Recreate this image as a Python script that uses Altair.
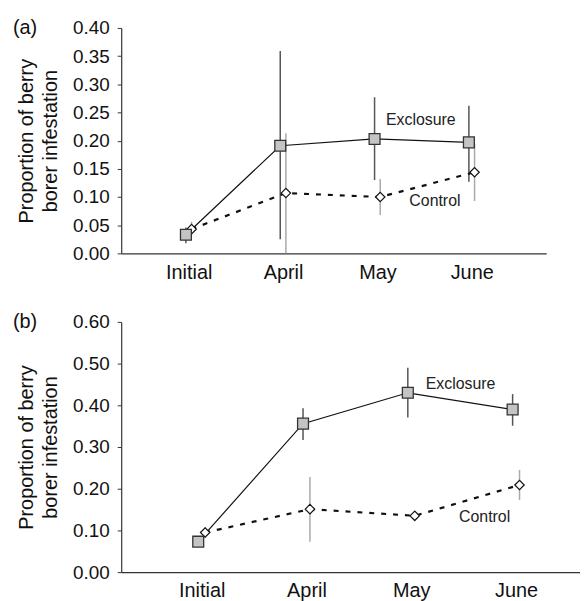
import altair as alt
import pandas as pd

months = ["Initial", "April", "May", "June"]

# Panel (a)
a_excl = [0.033, 0.191, 0.203, 0.197]
a_excl_lo = [0.018, 0.025, 0.130, 0.127]
a_excl_hi = [0.046, 0.359, 0.277, 0.262]
a_ctrl = [0.043, 0.107, 0.100, 0.144]
a_ctrl_lo = [0.034, 0.000, 0.068, 0.093]
a_ctrl_hi = [0.056, 0.213, 0.132, 0.194]

# Panel (b)
b_excl = [0.073, 0.356, 0.430, 0.390]
b_excl_lo = [0.064, 0.317, 0.371, 0.351]
b_excl_hi = [0.082, 0.393, 0.490, 0.427]
b_ctrl = [0.095, 0.151, 0.135, 0.209]
b_ctrl_lo = [0.082, 0.073, 0.129, 0.173]
b_ctrl_hi = [0.108, 0.228, 0.141, 0.245]

a_ticks = [0.00, 0.05, 0.10, 0.15, 0.20, 0.25, 0.30, 0.35, 0.40]
b_ticks = [0.00, 0.10, 0.20, 0.30, 0.40, 0.50, 0.60]

a_label_x = [2.46, 2.61]
a_label_y = [0.237, 0.092]
b_label_x = [2.47, 2.70]
b_label_y = [0.450, 0.133]
label_text = ["Exclosure", "Control"]

FONT = "Liberation Sans"


def panel(excl, elo, ehi, ctrl, clo, chi, lx, ly, tag, yticks, xdom, w, h, off):
    rows = []
    for i, m in enumerate(months):
        rows.append(dict(month=m, pos=i - off, series="Exclosure", v=excl[i], lo=elo[i], hi=ehi[i]))
        rows.append(dict(month=m, pos=i + off, series="Control", v=ctrl[i], lo=clo[i], hi=chi[i]))
    df = pd.DataFrame(rows)
    lab = pd.DataFrame(dict(x=lx, y=ly, t=label_text))
    ymax = yticks[-1]

    xscale = alt.Scale(domain=xdom, nice=False, zero=False)
    xaxis = alt.Axis(
        values=[0, 1, 2, 3], tickCount=4,
        labelExpr="['Initial','April','May','June'][datum.value]",
        title=None, grid=False, ticks=False, tickSize=0,
        labelFontSize=20, labelPadding=9, labelFont=FONT,
        labelColor="#111", domainColor="#333", domainWidth=1.2,
        labelOverlap=False,
    )
    yscale = alt.Scale(domain=[0, ymax], nice=False)
    yaxis = alt.Axis(
        values=yticks, tickCount=len(yticks), format=".2f",
        title=["Proportion of berry", "borer infestation"],
        titleFontSize=20, titleFontWeight="normal", titleFont=FONT,
        titleColor="#111", titleLineHeight=24, titlePadding=12,
        labelFontSize=19, labelFont=FONT, labelColor="#111", labelPadding=8,
        labelOverlap=False,
        tickSize=4, tickColor="#333", domainColor="#333", domainWidth=1.2,
        grid=False,
    )

    def Y(field):
        return alt.Y(field, scale=yscale, axis=yaxis)

    def X(field):
        return alt.X(field, scale=xscale, axis=xaxis)

    base = alt.Chart(df)
    ex = base.transform_filter(alt.datum.series == "Exclosure")
    ct = base.transform_filter(alt.datum.series == "Control")

    ex_err = ex.mark_rule(color="#555", strokeWidth=1.5).encode(
        x=X("pos:Q"), y=Y("lo:Q"), y2="hi:Q")
    ct_err = ct.mark_rule(color="#aaa", strokeWidth=1.5).encode(
        x=X("pos:Q"), y=Y("lo:Q"), y2="hi:Q")
    ex_line = ex.mark_line(color="#111", strokeWidth=1.2).encode(
        x=X("pos:Q"), y=Y("v:Q"), order="pos:Q")
    ct_line = ct.mark_line(color="#111", strokeWidth=2.2, strokeDash=[5, 7]).encode(
        x=X("pos:Q"), y=Y("v:Q"), order="pos:Q")
    ex_pt = ex.mark_point(shape="square", filled=True, fill="#c4c4c4", stroke="#333",
                          strokeWidth=1.3, size=120, opacity=1).encode(
        x=X("pos:Q"), y=Y("v:Q"))
    ct_pt = ct.mark_point(shape="diamond", filled=True, fill="white", stroke="#111",
                          strokeWidth=1.2, size=90, opacity=1).encode(
        x=X("pos:Q"), y=Y("v:Q"))
    texts = alt.Chart(lab).mark_text(font=FONT, fontSize=16, color="#222").encode(
        x=X("x:Q"), y=Y("y:Q"), text="t:N")
    tagt = alt.Chart(pd.DataFrame(dict(t=[tag]))).mark_text(
        font=FONT, fontSize=20, color="#111", align="left", baseline="middle"
    ).encode(x=alt.value(-109), y=alt.value(0), text="t:N")

    return alt.layer(ex_err, ct_err, ex_line, ct_line, ct_pt, ex_pt, texts, tagt).properties(
        width=w, height=h)


pa = panel(a_excl, a_excl_lo, a_excl_hi, a_ctrl, a_ctrl_lo, a_ctrl_hi,
           a_label_x, a_label_y, "(a)", a_ticks, [-0.716, 3.79], 428, 227, 0.03)
pb = panel(b_excl, b_excl_lo, b_excl_hi, b_ctrl, b_ctrl_lo, b_ctrl_hi,
           b_label_x, b_label_y, "(b)", b_ticks, [-0.768, 3.61], 462, 252, 0.033)

chart = alt.vconcat(pa, pb, spacing=30).properties(
    padding={"left": 5, "top": 8, "right": 0, "bottom": 0},
    background="white",
).configure_view(strokeWidth=0)

chart.save("out.html", embed_options={"renderer": "svg", "actions": False})
